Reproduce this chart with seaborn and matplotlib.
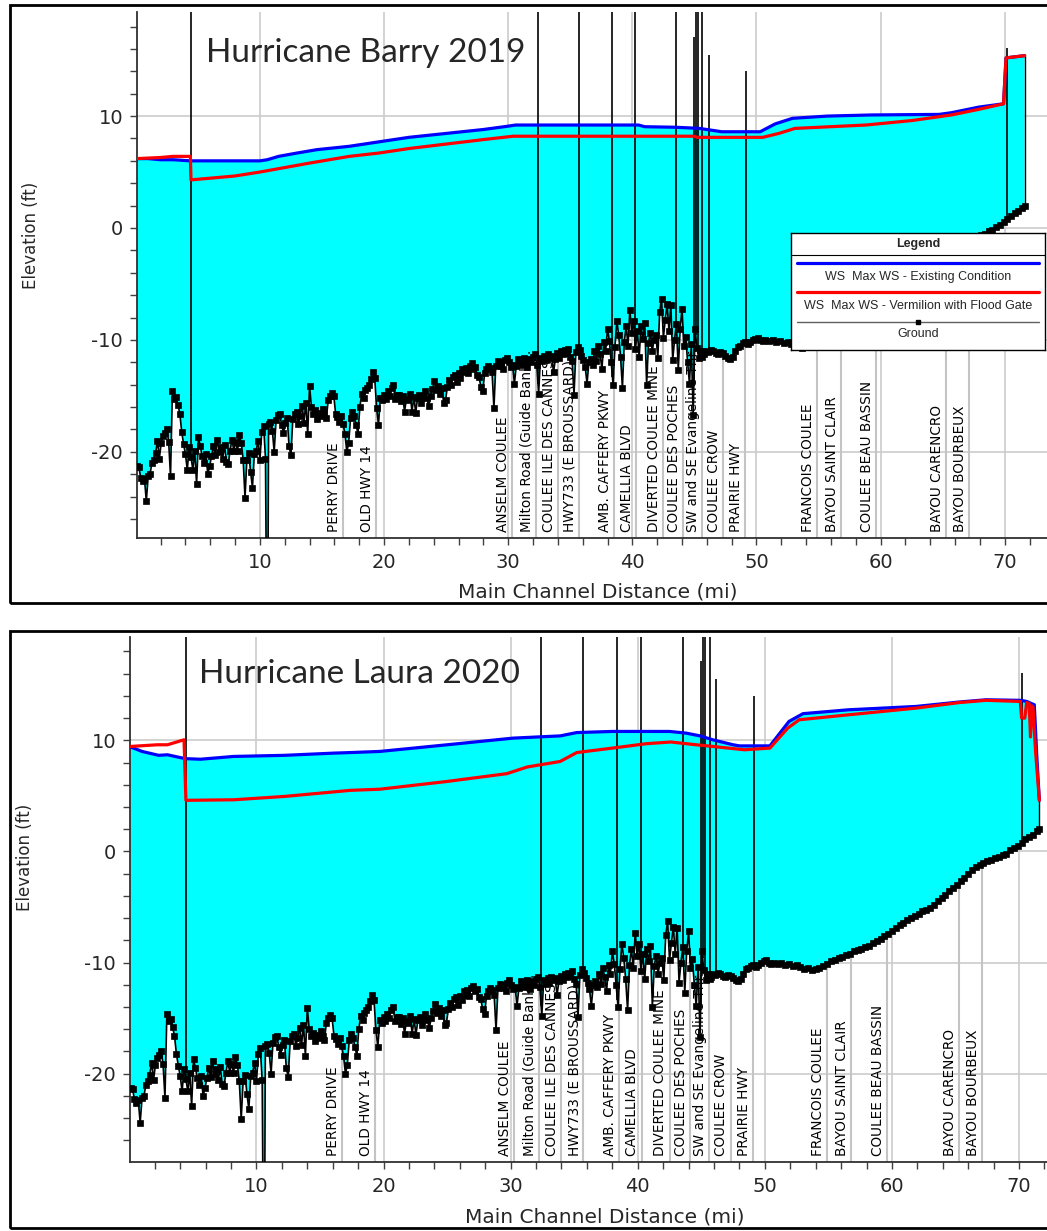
import numpy as np
import matplotlib
matplotlib.use("Agg")
import matplotlib.pyplot as plt
import seaborn as sns
from matplotlib.patches import Rectangle
from matplotlib.ticker import MultipleLocator

sns.set_style("white")
plt.rcParams['font.family'] = ['DejaVu Sans']
plt.rcParams['axes.unicode_minus'] = False

# ---------------- channel ground profile (mi, ft) ----------------
ground_mi = [
    0.1, 0.25, 0.4, 0.55, 0.7, 0.85, 1.0, 1.15, 1.3, 1.45, 1.6, 1.75, 1.9, 2.05, 2.2, 2.35,
    2.5, 2.65, 2.8, 2.95, 3.1, 3.25, 3.4, 3.55, 3.7, 3.85, 4.0, 4.15, 4.3, 4.45, 4.6, 4.75,
    4.9, 5.05, 5.2, 5.35, 5.5, 5.65, 5.8, 5.95, 6.1, 6.25, 6.4, 6.55, 6.7, 6.85, 7.0, 7.15,
    7.3, 7.45, 7.6, 7.75, 7.9, 8.05, 8.2, 8.35, 8.5, 8.65, 8.8, 8.95, 9.1, 9.25, 9.4, 9.55,
    9.7, 9.85, 10.0, 10.15, 10.3, 10.45, 10.6, 10.7, 10.85, 11.0, 11.15, 11.3, 11.45, 11.6,
    11.75, 11.9, 12.05, 12.2, 12.35, 12.5, 12.65, 12.8, 12.95, 13.1, 13.25, 13.4, 13.55,
    13.7, 13.85, 14.0, 14.15, 14.3, 14.45, 14.6, 14.75, 14.9, 15.05, 15.2, 15.35, 15.5,
    15.65, 15.8, 15.95, 16.1, 16.25, 16.4, 16.55, 16.7, 16.85, 17.0, 17.15, 17.3, 17.45,
    17.6, 17.75, 17.9, 18.05, 18.2, 18.35, 18.5, 18.65, 18.8, 18.95, 19.1, 19.25, 19.4,
    19.55, 19.7, 19.85, 20.0, 20.15, 20.3, 20.45, 20.6, 20.75, 20.9, 21.05, 21.2, 21.35,
    21.5, 21.65, 21.8, 21.95, 22.1, 22.25, 22.4, 22.55, 22.7, 22.85, 23.0, 23.15, 23.3,
    23.45, 23.6, 23.75, 23.9, 24.05, 24.2, 24.35, 24.5, 24.65, 24.8, 24.95, 25.1, 25.25,
    25.4, 25.55, 25.7, 25.85, 26.0, 26.15, 26.3, 26.45, 26.6, 26.75, 26.9, 27.05, 27.2,
    27.35, 27.5, 27.65, 27.8, 27.95, 28.1, 28.25, 28.4, 28.55, 28.7, 28.85, 29.0, 29.15,
    29.3, 29.45, 29.6, 29.75, 29.9, 30.05, 30.2, 30.35, 30.5, 30.65, 30.8, 30.95, 31.1,
    31.25, 31.4, 31.55, 31.7, 31.85, 32.0, 32.15, 32.3, 32.45, 32.6, 32.75, 32.9, 33.05,
    33.2, 33.35, 33.5, 33.65, 33.8, 33.95, 34.1, 34.25, 34.4, 34.55, 34.7, 34.85, 35.0,
    35.15, 35.3, 35.45, 35.6, 35.75, 35.9, 36.05, 36.2, 36.35, 36.5, 36.65, 36.8, 36.95,
    37.1, 37.25, 37.4, 37.55, 37.7, 37.85, 38.0, 38.15, 38.3, 38.45, 38.6, 38.75, 38.9,
    39.05, 39.2, 39.35, 39.5, 39.65, 39.8, 39.95, 40.1, 40.25, 40.4, 40.55, 40.7, 40.85,
    41.0, 41.15, 41.3, 41.45, 41.6, 41.75, 41.9, 42.05, 42.2, 42.35, 42.5, 42.65, 42.8,
    42.95, 43.1, 43.25, 43.4, 43.55, 43.7, 43.85, 44.0, 44.15, 44.3, 44.45, 44.6, 44.75,
    44.9, 45.05, 45.2, 45.35, 45.5, 45.65, 45.8, 45.95, 46.1, 46.3, 46.5, 46.7, 46.9, 47.1,
    47.3, 47.5, 47.7, 47.9, 48.1, 48.3, 48.5, 48.7, 48.9, 49.1, 49.3, 49.5, 49.7, 49.9,
    50.1, 50.3, 50.5, 50.7, 51.0, 51.3, 51.6, 51.9, 52.2, 52.5, 52.8, 53.1, 53.4, 53.7,
    54.0, 54.3, 54.6, 54.9, 55.2, 55.5, 55.8, 56.1, 56.4, 56.7, 57.0, 57.3, 57.6, 57.9,
    58.2, 58.5, 58.8, 59.1, 59.4, 59.7, 60.0, 60.3, 60.6, 60.9, 61.2, 61.5, 61.8, 62.1,
    62.4, 62.7, 63.0, 63.3, 63.6, 63.9, 64.2, 64.5, 64.8, 65.1, 65.4, 65.7, 66.0, 66.3,
    66.6, 66.9, 67.2, 67.5, 67.8, 68.1, 68.4, 68.7, 69.0, 69.3, 69.6, 69.9, 70.2, 70.5,
    70.8, 71.1, 71.4, 71.6,
]
ground_ft = [
    -21.3, -21.4, -22.3, -22.6, -22.4, -24.4, -22.2, -22.0, -21.0, -20.7, -20.1, -19.0, -20.6, -19.2, -18.6, -18.3,
    -18.0, -19.1, -22.2, -14.6, -15.3, -15.1, -15.8, -16.6, -18.2, -19.3, -20.2, -21.6, -19.6, -20.5, -21.6, -19.9,
    -22.9, -18.7, -19.5, -20.4, -21.0, -20.2, -22.0, -21.3, -20.4, -19.5, -20.3, -18.9, -20.0, -19.6, -20.6, -19.4,
    -20.9, -21.1, -19.9, -18.9, -19.9, -19.1, -19.9, -18.5, -19.2, -20.7, -24.1, -20.7, -20.1, -21.8, -23.2, -20.2,
    -19.9, -19.0, -20.7, -18.2, -17.7, -20.6, -45.0, -17.5, -17.3, -18.1, -20.0, -17.2, -16.7, -16.6,
    -17.6, -18.3, -17.4, -17.0, -19.5, -20.3, -17.1, -16.6, -16.4, -17.5, -16.8, -15.9, -17.4,
    -15.6, -18.4, -14.1, -16.0, -16.6, -16.3, -17.1, -16.5, -16.8, -16.2, -16.6, -17.0, -15.4,
    -15.0, -14.7, -15.0, -16.6, -16.9, -17.3, -16.8, -17.5, -18.4, -20.0, -19.2, -17.0, -16.4,
    -16.8, -17.6, -18.4, -16.0, -14.8, -15.2, -14.5, -14.3, -14.0, -13.5, -12.9, -13.4, -16.1,
    -17.6, -15.2, -15.4, -14.9, -15.3, -14.6, -15.0, -14.3, -14.0, -15.3, -14.9, -14.9, -15.5,
    -15.0, -16.4, -15.3, -15.4, -14.8, -16.4, -15.1, -16.5, -15.2, -14.9, -15.6, -15.1, -14.6,
    -15.2, -15.9, -15.0, -14.4, -13.7, -14.5, -14.1, -14.8, -14.3, -15.6, -15.4, -14.2, -13.6,
    -14.0, -13.3, -13.1, -13.8, -13.0, -13.4, -12.6, -12.9, -12.5, -13.0, -12.3, -12.1, -12.6,
    -12.4, -13.1, -13.3, -14.2, -14.6, -13.0, -12.6, -12.3, -12.5, -12.9, -16.1, -12.3, -11.9,
    -12.0, -12.3, -12.6, -11.8, -11.6, -12.0, -12.4, -12.2, -13.9, -12.3, -11.7, -11.9, -12.2,
    -11.6, -11.9, -12.4, -11.7, -12.0, -11.5, -11.3, -12.2, -14.8, -11.6, -11.9, -11.4, -11.8,
    -11.3, -11.6, -11.4, -12.9, -11.7, -11.2, -11.6, -11.0, -11.3, -10.9, -11.2, -10.8, -11.5,
    -11.9, -14.9, -11.1, -10.6, -10.9, -11.4, -11.8, -12.4, -13.9, -12.0, -11.7, -12.2, -11.0,
    -11.9, -10.5, -11.3, -12.6, -10.2, -11.0, -9.0, -10.1, -12.0, -14.0, -10.6, -8.3, -9.6,
    -11.5, -14.3, -10.2, -8.8, -10.5, -7.3, -9.4, -8.3, -10.8, -9.2, -11.5, -8.8, -9.9,
    -8.5, -14.0, -10.3, -9.4, -11.0, -10.0, -9.6, -11.6, -7.5, -6.3, -9.8, -8.2, -6.8,
    -9.2, -6.9, -11.8, -10.0, -8.6, -12.7, -9.0, -7.2, -10.5, -9.7, -12.0, -13.9, -10.4,
    -16.7, -9.0, -10.7, -11.6, -11.0, -11.5, -11.3, -11.0, -11.1, -10.9, -11.0, -11.2, -11.3, -11.1,
    -11.2, -11.4, -11.6, -11.7, -11.5, -11.0, -10.6, -10.5, -10.3, -10.2, -10.4, -10.2, -10.0, -9.9,
    -9.8, -10.0, -10.1, -10.0, -10.1, -10.0, -10.2, -10.1, -10.3, -10.2, -10.4, -10.6, -10.5, -10.7,
    -10.6, -10.5, -10.3, -10.1, -9.9, -9.8, -9.6, -9.5, -9.3, -9.2, -9.0, -8.9, -8.8, -8.6,
    -8.5, -8.2, -8.1, -7.9, -7.6, -7.4, -7.2, -6.9, -6.6, -6.4, -6.2, -6.0, -5.8, -5.6,
    -5.4, -5.3, -5.1, -4.8, -4.5, -4.2, -3.9, -3.6, -3.3, -3.0, -2.7, -2.4, -2.0, -1.7,
    -1.4, -1.2, -1.0, -0.9, -0.8, -0.6, -0.5, -0.3, -0.2, 0.1, 0.3, 0.5, 0.8, 1.1,
    1.3, 1.5, 1.8, 2.0,
]

# ---------------- water surface profiles ----------------
barry_exist_mi = [0.1, 1.0, 2.0, 3.0, 4.4, 4.5, 6.0, 8.0, 10.0, 10.6, 11.5, 13.0, 14.6, 17.2, 19.6,
                  22.0, 25.0, 28.0, 30.0, 30.6, 35.0, 40.5, 41.0, 43.5, 45.4, 47.2, 50.3, 51.5,
                  52.9, 55.7, 59.3, 64.7, 65.7, 67.9, 69.9, 70.1, 71.6]
barry_exist_ft = [6.2, 6.2, 6.1, 6.1, 6.0, 6.0, 6.0, 6.0, 6.0, 6.1, 6.4, 6.7, 7.0, 7.3, 7.7,
                  8.1, 8.45, 8.8, 9.1, 9.2, 9.2, 9.2, 9.05, 9.0, 8.9, 8.6, 8.6, 9.3,
                  9.8, 10.0, 10.1, 10.15, 10.3, 10.8, 11.1, 15.2, 15.4]
barry_gate_mi = [0.1, 2.0, 3.0, 4.4, 4.45, 6.0, 8.0, 10.0, 12.0, 14.0, 17.2, 19.6, 22.0, 25.0,
                 28.0, 30.4, 35.0, 40.0, 45.0, 45.2, 50.5, 51.8, 53.1, 55.0, 58.8, 62.5, 65.7,
                 67.9, 69.9, 70.1, 71.6]
barry_gate_ft = [6.2, 6.3, 6.4, 6.4, 4.3, 4.45, 4.65, 5.0, 5.4, 5.8, 6.4, 6.7, 7.1, 7.5,
                 7.9, 8.2, 8.2, 8.2, 8.2, 8.1, 8.1, 8.45, 8.9, 9.0, 9.2, 9.6, 10.1,
                 10.6, 11.1, 15.2, 15.4]

laura_exist_mi = [0.1, 1.0, 2.3, 3.0, 4.4, 5.6, 8.2, 12.2, 16.1, 17.4, 19.7, 25.0, 30.2, 33.9,
                  35.2, 38.0, 42.5, 43.8, 44.9, 45.9, 47.5, 48.0, 50.4, 51.9, 53.0, 56.6, 61.9,
                  65.3, 67.4, 70.1, 70.6, 71.2, 71.4, 71.6]
laura_exist_ft = [9.4, 9.0, 8.65, 8.7, 8.35, 8.3, 8.55, 8.65, 8.85, 8.9, 9.0, 9.6, 10.2, 10.4,
                  10.7, 10.8, 10.8, 10.65, 10.4, 10.05, 9.6, 9.5, 9.5, 11.7, 12.4, 12.75, 13.05,
                  13.45, 13.65, 13.6, 13.5, 13.2, 8.5, 4.6]
laura_gate_mi = [0.1, 2.2, 3.0, 4.3, 4.45, 8.2, 12.2, 17.4, 19.7, 25.0, 29.7, 31.3, 33.9, 35.2,
                 38.0, 40.7, 42.6, 44.6, 45.9, 48.4, 50.4, 51.8, 52.7, 56.6, 61.9, 65.3, 67.4,
                 70.1, 70.2, 70.45, 70.6, 70.8, 70.9, 71.0, 71.1, 71.3, 71.6]
laura_gate_ft = [9.45, 9.6, 9.6, 10.05, 4.6, 4.65, 4.95, 5.5, 5.6, 6.3, 7.0, 7.6, 8.1, 8.9,
                 9.3, 9.7, 9.85, 9.6, 9.45, 9.15, 9.3, 11.1, 11.85, 12.3, 12.9, 13.4, 13.6,
                 13.5, 12.0, 12.0, 13.4, 13.3, 10.3, 13.1, 13.0, 9.0, 4.6]

# ---------------- structures (bridges) and labelled locations ----------------
bridge_mi = [4.42, 32.4, 35.7, 38.4, 40.25, 43.55, 44.95, 45.1, 45.3, 45.65, 46.15, 49.15, 70.2]
bridge_top_ft = [30, 30, 30, 30, 30, 30, 17.1, 30, 30, 30, 15.5, 14.0, 16.1]

label_mi = [16.7, 19.35, 30.3, 32.2, 34.0, 35.7, 38.5, 40.3, 42.5, 44.1, 45.6, 47.3, 49.1,
            54.9, 56.8, 59.6, 65.3, 67.1]
label_text = ["PERRY DRIVE", "OLD HWY 14", "ANSELM COULEE", "Milton Road (Guide Bank...",
              "COULEE ILE DES CANNES", "HWY733 (E BROUSSARD)", "AMB. CAFFERY PKWY",
              "CAMELLIA BLVD", "DIVERTED COULEE MINE", "COULEE DES POCHES",
              "SW and SE Evangeline Thr...", "COULEE CROW", "PRAIRIE HWY", "FRANCOIS COULEE",
              "BAYOU SAINT CLAIR", "COULEE BEAU BASSIN", "BAYOU CARENCRO", "BAYOU BOURBEUX"]

legend_items = ["WS  Max WS - Existing Condition", "WS  Max WS - Vermilion with Flood Gate", "Ground"]

W, H = 1047, 1231
fig = plt.figure(figsize=(W / 100, H / 100), dpi=100)


def px_box(l, t, r, b):
    return [l / W, 1 - b / H, (r - l) / W, (b - t) / H]


panels = [
    dict(title="Hurricane Barry 2019", axbox=(137, 12, 1047, 538), xlim=(0.1, 73.4),
         ylim=(-27.7, 19.3), exist=(barry_exist_mi, barry_exist_ft),
         gate=(barry_gate_mi, barry_gate_ft), frame=(10, 5, 1070, 603), title_xy=(206, 62),
         xlabel=(0.506, -0.113), ylabel_xy=(-0.107, 0.575)),
    dict(title="Hurricane Laura 2020", axbox=(130, 637, 1047, 1162), xlim=(0.05, 72.2),
         ylim=(-27.95, 19.3), exist=(laura_exist_mi, laura_exist_ft),
         gate=(laura_gate_mi, laura_gate_ft), frame=(10, 631, 1070, 1228), title_xy=(199, 683),
         xlabel=(0.518, -0.115), ylabel_xy=(-0.105, 0.58)),
]

gx = np.array(ground_mi)
gy = np.array(ground_ft)

for p in panels:
    ax = fig.add_axes(px_box(*p["axbox"]))
    ax.set_xlim(*p["xlim"])
    ax.set_ylim(*p["ylim"])
    ax.set_axisbelow(True)
    ax.grid(True, which="major", color="#cccccc", lw=1.2)

    ex, ey = np.array(p["exist"][0]), np.array(p["exist"][1])
    rx, ry = np.array(p["gate"][0]), np.array(p["gate"][1])

    # water between the existing-condition surface and the channel bottom
    ax.fill(np.concatenate([ex, gx[::-1]]), np.concatenate([ey, gy[::-1]]),
            color="#00FFFF", lw=0, zorder=1.5)

    # labelled locations: thin grey rulers under the ground, rotated names
    ytop = np.interp(label_mi, gx, gy)
    ax.vlines(label_mi, p["ylim"][0], ytop, colors="#c4c4c4", lw=1.5, zorder=1)
    for st, txt in zip(label_mi, label_text):
        ax.annotate(txt, xy=(st, 0), xycoords=("data", "axes fraction"),
                    xytext=(-1.5, 4), textcoords="offset points", rotation=90,
                    ha="right", va="bottom", fontsize=9.8, color="black", zorder=2)

    # bridges / structures
    bbot = np.interp(bridge_mi, gx, gy)
    ax.vlines(bridge_mi, bbot, bridge_top_ft, colors="black", lw=1.2, zorder=2.5)
    ax.vlines(gx[-1], gy[-1], ey[-1], colors="black", lw=1.0, zorder=2.5)

    sns.lineplot(x=gx, y=gy, sort=False, estimator=None, color="black", lw=1.2,
                 marker="s", markersize=5.0, markeredgecolor="black", markeredgewidth=0.5,
                 markerfacecolor="black", ax=ax, zorder=3, legend=False)
    sns.lineplot(x=ex, y=ey, sort=False, estimator=None, color="#0000FF", lw=2.3,
                 ax=ax, zorder=4, legend=False)
    sns.lineplot(x=rx, y=ry, sort=False, estimator=None, color="#FF0000", lw=2.3,
                 ax=ax, zorder=5, legend=False)

    ax.xaxis.set_major_locator(MultipleLocator(10))
    ax.xaxis.set_minor_locator(MultipleLocator(2))
    ax.yaxis.set_major_locator(MultipleLocator(10))
    ax.yaxis.set_minor_locator(MultipleLocator(2))
    ax.tick_params(axis="both", which="both", direction="out", length=5, width=1,
                   color="#404040", labelsize=14, bottom=True, left=True)
    ax.tick_params(axis="x", which="major", pad=6)
    ax.tick_params(axis="y", which="major", pad=5)
    for s in ("top", "right"):
        ax.spines[s].set_visible(False)
    for s in ("left", "bottom"):
        ax.spines[s].set_color("#303030")
        ax.spines[s].set_linewidth(1.3)

    ax.set_xlabel("Main Channel Distance (mi)", fontsize=14.5)
    ax.xaxis.label.set_va("baseline")
    ax.xaxis.set_label_coords(*p["xlabel"])
    ax.set_ylabel("Elevation (ft)", fontsize=12)
    ax.yaxis.set_label_coords(*p["ylabel_xy"])

    fx, fy = p["title_xy"]
    fig.text(fx / W, 1 - fy / H, p["title"], fontsize=24, family="Lato",
             va="baseline", ha="left")

    l, t, r, b = p["frame"]
    fig.add_artist(Rectangle((l / W, 1 - b / H), (r - l) / W, (b - t) / H,
                             transform=fig.transFigure, fill=False, lw=2, ec="black"))

# legend box inside the upper panel
lg = fig.add_axes(px_box(791, 233, 1045, 350))
lg.set_xlim(0, 254)
lg.set_ylim(117, 0)
lg.set_xticks([])
lg.set_yticks([])
lg.set_facecolor("white")
for s in lg.spines.values():
    s.set_visible(True)
    s.set_color("black")
    s.set_linewidth(1.0)
lg.text(127, 10.5, "Legend", ha="center", va="center", fontsize=9, fontweight="bold",
        family="Liberation Sans")
lg.plot([0, 254], [22, 22], color="black", lw=0.8)
lg.plot([6, 248], [29.7, 29.7], color="#0000FF", lw=2.3)
lg.text(127, 44.3, legend_items[0], ha="center", va="center", fontsize=9, family="Liberation Sans")
lg.plot([6, 248], [58.7, 58.7], color="#FF0000", lw=2.3)
lg.text(127, 73, legend_items[1], ha="center", va="center", fontsize=9, family="Liberation Sans")
lg.plot([6, 248], [88.7, 88.7], color="#606060", lw=1.0)
lg.plot([127], [88.7], marker="s", color="black", markersize=3.5)
lg.text(127, 101.3, legend_items[2], ha="center", va="center", fontsize=9, family="Liberation Sans")

fig.savefig("out.png", dpi=100)
